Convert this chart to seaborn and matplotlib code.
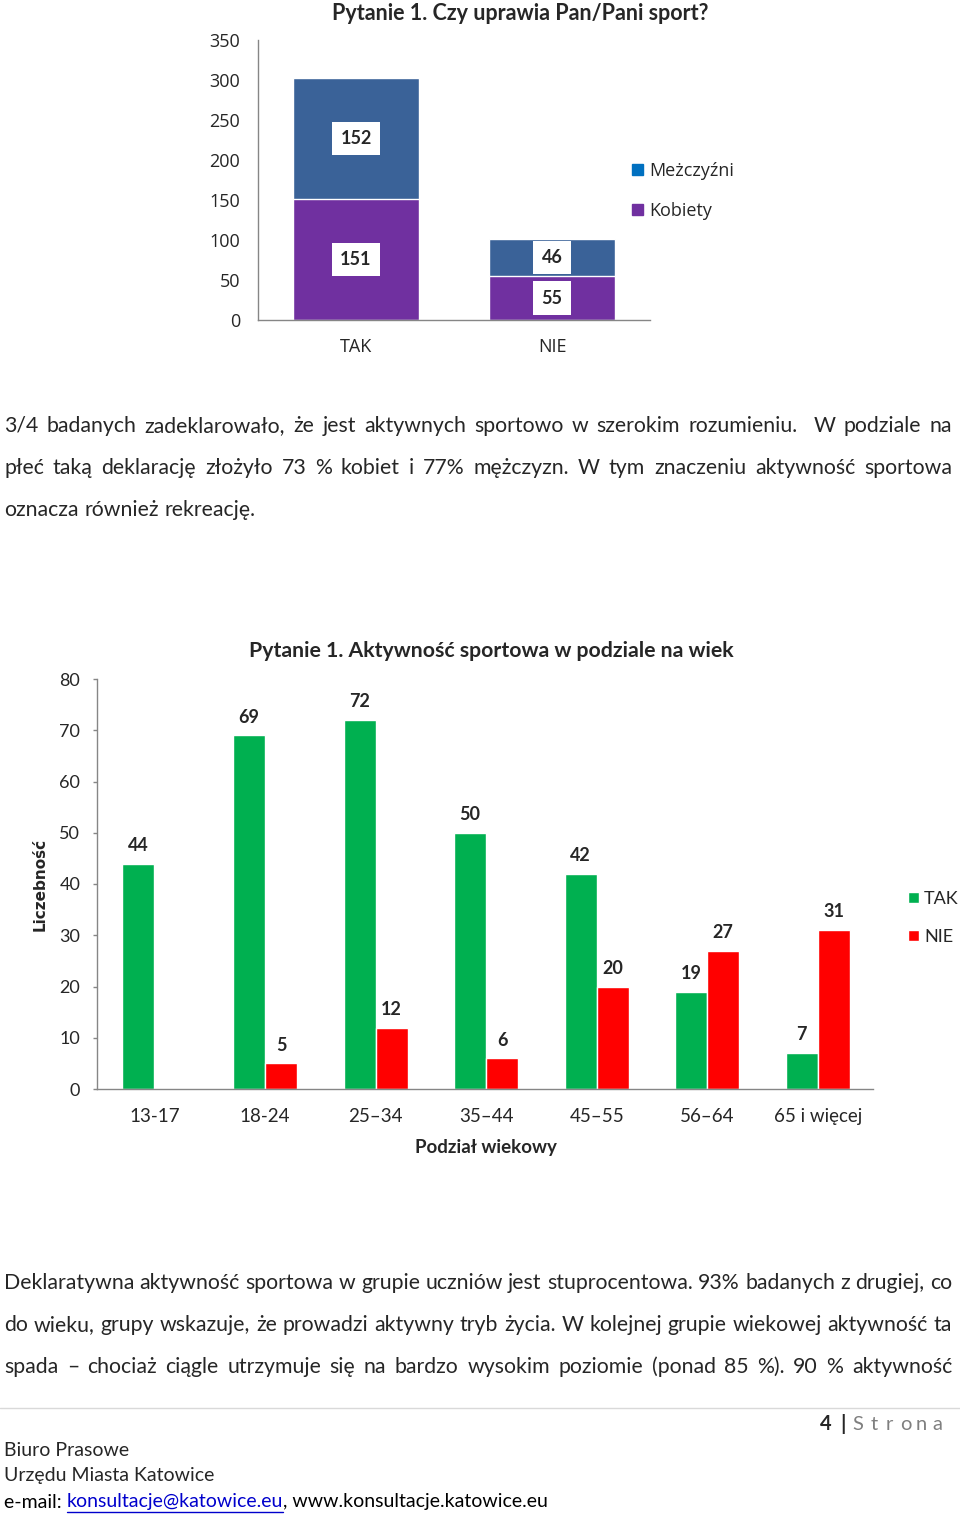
import numpy as np
import pandas as pd
import matplotlib.pyplot as plt
import seaborn as sns
from matplotlib.patches import Patch
from matplotlib.lines import Line2D

sns.set_theme(style='white')
plt.rcParams['font.family'] = ['Lato', 'DejaVu Sans']

# wykres 1 - czy uprawia sport (wg plci)
odpowiedzi = ['TAK', 'NIE']
kobiety = [151, 55]
mezczyzni = [152, 46]

# wykres 2 - aktywnosc wg wieku
wiek = ['13-17', '18-24', '25–34', '35–44', '45–55', '56–64', '65 i więcej']
tak = [44, 69, 72, 50, 42, 19, 7]
nie = [np.nan, 5, 12, 6, 20, 27, 31]

akapit1 = [
    '3/4 badanych zadeklarowało, że jest aktywnych sportowo w szerokim rozumieniu.  W podziale na',
    'płeć taką deklarację złożyło 73 % kobiet i 77% mężczyzn. W tym znaczeniu aktywność sportowa',
    'oznacza również rekreację.',
]
akapit2 = [
    'Deklaratywna aktywność sportowa w grupie uczniów jest stuprocentowa. 93% badanych z drugiej, co',
    'do wieku, grupy wskazuje, że prowadzi aktywny tryb życia. W kolejnej grupie wiekowej aktywność ta',
    'spada – chociaż ciągle utrzymuje się na bardzo wysokim poziomie (ponad 85 %). 90 % aktywność',
]

W, H = 960, 1515
fig = plt.figure(figsize=(W / 100, H / 100), dpi=100)
renderer = fig.canvas.get_renderer()


def fx(px):
    return px / W


def fy(py):
    return 1 - py / H


GRAY = '#868686'

# ---------- wykres 1 ----------
df1 = pd.DataFrame({'odp': odpowiedzi, 'kobiety': kobiety, 'mezczyzni': mezczyzni})
df1['razem'] = df1['kobiety'] + df1['mezczyzni']

ax1 = fig.add_axes([fx(258), fy(320), fx(650) - fx(258), fy(40) - fy(320)])
sns.barplot(data=df1, x='odp', y='razem', color='#3A6298', width=0.643, saturation=1, ax=ax1)
sns.barplot(data=df1, x='odp', y='kobiety', color='#7030A0', width=0.643, saturation=1, ax=ax1)

box = dict(facecolor='white', edgecolor='none', boxstyle='square,pad=0.45')
for i, row in df1.iterrows():
    ax1.text(i, row['kobiety'] / 2, str(row['kobiety']), ha='center', va='center',
             fontsize=13, fontweight='bold', bbox=box)
    ax1.text(i, row['kobiety'] + row['mezczyzni'] / 2, str(row['mezczyzni']), ha='center',
             va='center', fontsize=13, fontweight='bold', bbox=box)

ax1.set_xlim(-0.5, 1.5)
ax1.set_ylim(0, 350)
ax1.set_yticks(range(0, 351, 50))
ax1.set_xlabel('')
ax1.set_ylabel('')
for s in ['top', 'right']:
    ax1.spines[s].set_visible(False)
for s in ['left', 'bottom']:
    ax1.spines[s].set_color(GRAY)
    ax1.spines[s].set_linewidth(1)
ax1.tick_params(axis='both', length=0, labelsize=13, pad=13)
for lab in ax1.get_xticklabels() + ax1.get_yticklabels():
    lab.set_family(['Open Sans', 'DejaVu Sans'])

fig.text(fx(520), fy(13), 'Pytanie 1. Czy uprawia Pan/Pani sport?', ha='center', va='center',
         fontsize=15.5, fontweight='bold')

handles1 = [Patch(color='#0070C0', label='Meżczyźni'), Patch(color='#7030A0', label='Kobiety')]
fig.legend(handles=handles1, loc='upper left', bbox_to_anchor=(fx(632), fy(162)), frameon=False,
           borderpad=0, borderaxespad=0, handlelength=0.6, handleheight=0.6, handletextpad=0.35,
           labelspacing=1.22, prop={'family': ['Open Sans', 'DejaVu Sans'], 'size': 13})

# ---------- wykres 2 ----------
df2 = pd.DataFrame({
    'wiek': wiek * 2,
    'odp': ['TAK'] * len(wiek) + ['NIE'] * len(wiek),
    'n': tak + nie,
})

ax2 = fig.add_axes([fx(97), fy(1089), fx(873) - fx(97), fy(679) - fy(1089)])
sns.barplot(data=df2, x='wiek', y='n', hue='odp', order=wiek, hue_order=['TAK', 'NIE'],
            palette={'TAK': '#00B050', 'NIE': '#FF0000'}, width=0.58, saturation=1, ax=ax2)
for cont in ax2.containers:
    ax2.bar_label(cont, fmt='%d', padding=7, fontsize=13, fontweight='bold')

ax2.set_xlim(-0.52, 6.5)
ax2.set_ylim(0, 80)
ax2.set_yticks(range(0, 81, 10))
for s in ['top', 'right']:
    ax2.spines[s].set_visible(False)
for s in ['left', 'bottom']:
    ax2.spines[s].set_color(GRAY)
    ax2.spines[s].set_linewidth(1)
ax2.tick_params(axis='y', left=True, length=3, width=1, color=GRAY, labelsize=13, pad=9)
ax2.tick_params(axis='x', bottom=False, length=0, labelsize=13.5, pad=14)

ax2.set_xlabel('Podział wiekowy', fontsize=13.5, fontweight='bold', va='center')
ax2.xaxis.set_label_coords((486 - 97) / 776, (1089 - 1148) / 410)
ax2.set_ylabel('Liczebność', fontsize=11, fontweight='bold', va='center', family='DejaVu Sans')
ax2.yaxis.set_label_coords((40 - 97) / 776, (1089 - 884) / 410)

sns.move_legend(ax2, loc='upper left', bbox_to_anchor=(fx(908), fy(891)),
                bbox_transform=fig.transFigure, title=None, frameon=False, borderpad=0,
                borderaxespad=0, handlelength=0.6, handleheight=0.6, handletextpad=0.3,
                labelspacing=1.22, fontsize=13)

fig.text(fx(491), fy(651), 'Pytanie 1. Aktywność sportowa w podziale na wiek', ha='center',
         va='center', fontsize=15.3, fontweight='bold')


# ---------- tekst ----------
def width_of(t):
    return t.get_window_extent(renderer).width if t.get_text() else 0


def justify(line, y, size, last=False, x0=4, x1=952):
    words = line.split(' ')
    arts = [fig.text(0, fy(y), w, fontsize=size, va='center_baseline') for w in words]
    widths = [width_of(a) for a in arts]
    if last:
        sp = fig.text(0, 0, 'a a', fontsize=size)
        sp2 = fig.text(0, 0, 'aa', fontsize=size)
        gap = width_of(sp) - width_of(sp2)
        sp.remove()
        sp2.remove()
    else:
        gap = (x1 - x0 - sum(widths)) / (len(words) - 1)
    x = x0
    for a, w in zip(arts, widths):
        a.set_x(fx(x))
        x += w + gap


# rozmiar czcionki dobrany tak, by linia bez rozciagania miala szerokosc strony
probe = fig.text(0, 0, akapit2[1], fontsize=14)
body_size = 14 * 948 / width_of(probe)
probe.remove()

for k, (line, y) in enumerate(zip(akapit1, [424, 466, 508])):
    justify(line, y, body_size, last=(k == 2))
for line, y in zip(akapit2, [1281, 1323, 1365]):
    justify(line, y, body_size)

# ---------- stopka ----------
fig.add_artist(Line2D([0, 1], [fy(1408), fy(1408)], color='#D9D9D9', lw=1))
fig.text(fx(826), fy(1424), '4', ha='center', va='center', fontsize=14.5, fontweight='bold')
fig.text(fx(843), fy(1424), '|', ha='center', va='center', fontsize=15, fontweight='bold')
for i, ch in enumerate('Strona'):
    fig.text(fx(858 + i * 15.8), fy(1424), ch, ha='center', va='center', fontsize=14.5,
             color='#7F7F7F')

fig.text(fx(4), fy(1451), 'Biuro Prasowe', va='center', fontsize=14)
fig.text(fx(4), fy(1476), 'Urzędu Miasta Katowice', va='center', fontsize=14)

x = 4
for piece, col in [('e-mail: ', 'black'), ('konsultacje@katowice.eu', '#0000CC'),
                   (', www.konsultacje.katowice.eu', 'black')]:
    t = fig.text(fx(x), fy(1502), piece, va='center', fontsize=14, color=col)
    w = width_of(t)
    if col != 'black':
        fig.add_artist(Line2D([fx(x), fx(x + w)], [fy(1512), fy(1512)], color=col, lw=1))
    x += w

fig.savefig('out.png', dpi=100)
